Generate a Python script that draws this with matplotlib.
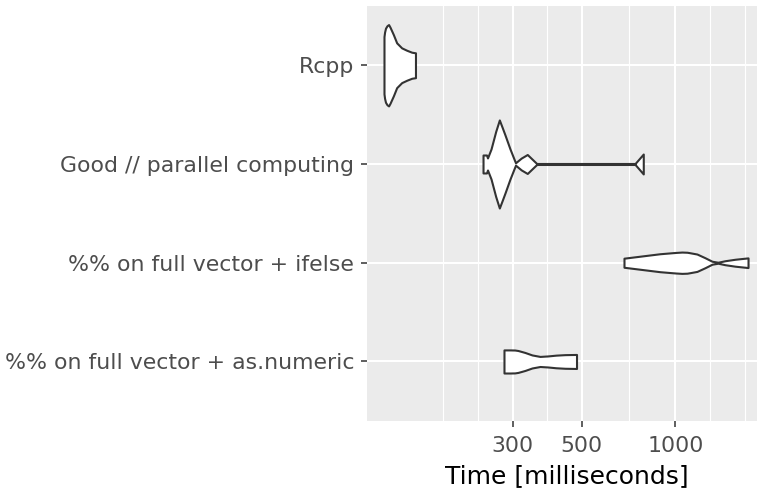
import matplotlib
matplotlib.use("Agg")
import matplotlib.pyplot as plt
from matplotlib.ticker import FixedLocator, NullFormatter, NullLocator

# benchmark groups, bottom to top
categories = ["%% on full vector + as.numeric",
              "%% on full vector + ifelse",
              "Good // parallel computing",
              "Rcpp"]

# violin outlines: time (ms) and half-width (category units)
numeric_time = [281.7, 294.5, 305.0, 312.4, 329.0, 346.5, 367.6, 389.9, 413.7, 442.1, 481.4]
numeric_width = [0.117, 0.117, 0.116, 0.111, 0.091, 0.066, 0.051, 0.056, 0.064, 0.069, 0.071]

ifelse_time = [683.6, 769.3, 891.9, 1000, 1049, 1090, 1113, 1172, 1243, 1310, 1369, 1441, 1552, 1709]
ifelse_width = [0.046, 0.066, 0.091, 0.104, 0.108, 0.106, 0.101, 0.088, 0.051, 0.015, 0.005, 0.020, 0.035, 0.049]

parallel_time = [241.3, 247.6, 249.4, 256.0, 265.0, 272.2, 278.0, 283.8, 294.5, 306.7,
                 320.0, 334.6, 358.6, 741.9, 788.3]
parallel_width = [0.091, 0.091, 0.061, 0.152, 0.330, 0.446, 0.370, 0.294, 0.152, 0.012,
                  0.060, 0.096, 0.005, 0.005, 0.101]

rcpp_time = [116.1, 116.6, 117.4, 118.7, 120.1, 121.4, 124.4, 127.5, 132.3, 137.3, 142.5, 146.5]
rcpp_width = [0.290, 0.335, 0.375, 0.400, 0.412, 0.385, 0.311, 0.227, 0.176, 0.152, 0.132, 0.126]

major_breaks = [300, 500, 1000]
minor_breaks = [180, 232.4, 387.3, 707.1, 1291, 1667]

profiles = [(numeric_time, numeric_width),
            (ifelse_time, ifelse_width),
            (parallel_time, parallel_width),
            (rcpp_time, rcpp_width)]

plt.rcParams['font.family'] = ['DejaVu Sans']

fig = plt.figure(figsize=(7.57, 4.96), dpi=100)
ax = fig.add_axes([0.4848, 0.1518, 0.5284, 0.8361])
ax.set_facecolor('#EBEBEB')
for s in ax.spines.values():
    s.set_visible(False)

ax.set_xscale('log')
ax.set_xlim(102.4, 1966)
ax.set_ylim(0.4, 4.6)

for pos, (t, w) in enumerate(profiles, start=1):
    lo = [pos - v for v in w]
    hi = [pos + v for v in w]
    ax.fill_between(t, lo, hi, facecolor='white', edgecolor='#333333',
                    linewidth=1.5, joinstyle='round', zorder=3)

ax.xaxis.set_major_locator(FixedLocator(major_breaks))
ax.set_xticklabels([str(b) for b in major_breaks])
ax.xaxis.set_minor_locator(FixedLocator(minor_breaks))
ax.xaxis.set_minor_formatter(NullFormatter())
ax.yaxis.set_minor_locator(NullLocator())
ax.set_yticks(range(1, len(categories) + 1))
ax.set_yticklabels(categories)

ax.set_axisbelow(True)
ax.grid(which='major', color='white', linewidth=1.5)
ax.grid(which='minor', axis='x', color='white', linewidth=0.8)

ax.tick_params(which='major', length=4.3, width=1.1, color='#333333',
               labelcolor='#4D4D4D', labelsize=15.8)
ax.tick_params(axis='x', which='major', pad=6.5)
ax.tick_params(axis='y', which='major', pad=5)
ax.tick_params(which='minor', length=0)

ax.set_xlabel('Time [milliseconds]', fontsize=18, color='black', labelpad=6)

fig.savefig('out.png', dpi=100)
